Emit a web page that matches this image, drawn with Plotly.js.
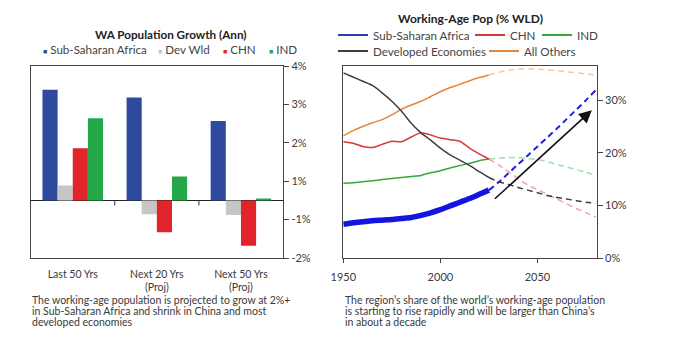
<!DOCTYPE html>
<html>
<head>
<meta charset="utf-8">
<script src="https://cdn.plot.ly/plotly-3.0.1.min.js"></script>
<style>html,body{margin:0;padding:0;background:#fff;}#chart{width:673px;height:358px;}</style>
</head>
<body>
<div id="chart"></div>
<script>
// ---- Left chart: working-age population growth (annual) ----
const barCats = ['Last 50 Yrs', 'Next 20 Yrs<br>(Proj)', 'Next 50 Yrs<br>(Proj)'];
const ssaGrowth = [2.88, 2.68, 2.07];
const devGrowth = [0.39, -0.36, -0.38];
const chnGrowth = [1.36, -0.83, -1.18];
const indGrowth = [2.14, 0.62, 0.05];
const growthTickVals = [-1.5, -0.5, 0.5, 1.5, 2.5, 3.5];
const growthTickText = ['-2%', '-1%', '1%', '2%', '3%', '4%'];

// ---- Right chart: working-age population share of world (%) ----
const histYears = [1950,1955,1960,1965,1970,1975,1980,1985,1990,1995,2000,2005,2010,2015,2020,2025];
const projYears = [2025,2030,2035,2040,2045,2050,2055,2060,2065,2070,2075,2080];
const ssaHist = [6.4,6.7,6.9,7.1,7.2,7.3,7.5,7.7,8.1,8.6,9.2,9.9,10.6,11.3,12.1,12.9];
const ssaProj = [12.9,14.4,16.1,17.8,19.5,21.2,22.9,24.6,26.4,28.2,30.0,31.9];
const chnHist = [22.1,21.8,21.2,21.0,21.6,22.2,22.1,23.0,23.8,23.4,22.8,22.5,22.2,20.9,19.8,18.8];
const chnProj = [18.8,17.7,16.4,15.1,13.9,13.0,12.1,11.2,10.3,9.4,8.6,7.8];
const indHist = [14.2,14.3,14.5,14.7,14.9,15.1,15.3,15.5,15.7,16.2,16.6,17.1,17.6,18.0,18.5,18.8];
const indProj = [18.8,19.0,19.1,19.1,18.9,18.7,18.3,17.8,17.3,16.8,16.3,15.7];
const devHist = [35.2,34.4,33.6,32.8,31.4,29.8,27.9,25.6,23.8,22.4,20.9,19.6,18.6,17.6,16.4,15.3];
const devProj = [15.3,14.5,14.0,13.4,12.9,12.4,11.9,11.5,11.2,10.9,10.6,10.4];
const othHist = [23.2,24.2,25.0,25.7,26.3,27.2,28.3,29.1,29.8,30.7,31.6,32.4,33.0,33.7,34.3,34.8];
const othProj = [34.8,35.3,35.7,35.9,36.0,35.9,35.8,35.6,35.4,35.2,35.0,34.8];
const shareTickVals = [0, 10, 20, 30];
const shareTickText = ['0%', '10%', '20%', '30%'];
const yearTickVals = [1950, 2000, 2050];
const arrowFrom = [2027.3, 11.0];
const arrowTo = [2078, 28.1];

const FONT = 'Lato, "Open Sans", sans-serif';
const TXT = '#3a3a3a';

const C = {
  ssaBar: '#2e4a9e', devBar: '#c6c6c6', chnBar: '#e1232b', indBar: '#23a94a',
  ssa: '#1414e0', ssaLeg: '#2a40b0', chn: '#d43a3a', ind: '#3aa63a', dev: '#404040', oth: '#e8853a',
  chnD: '#f2a5a5', indD: '#a6dca6', othD: '#f6c9a2', devD: '#404040', ssaD: '#2020e0'
};

const traces = [];
function bar(vals, color, name) {
  return {type: 'bar', x: barCats, y: vals, name: name, marker: {color: color},
          xaxis: 'x', yaxis: 'y', showlegend: false, hoverinfo: 'skip'};
}
traces.push(bar(ssaGrowth, C.ssaBar, 'Sub-Saharan Africa'));
traces.push(bar(devGrowth, C.devBar, 'Dev Wld'));
traces.push(bar(chnGrowth, C.chnBar, 'CHN'));
traces.push(bar(indGrowth, C.indBar, 'IND'));

function line(x, y, color, width, dash, name) {
  return {type: 'scatter', mode: 'lines', x: x, y: y, name: name,
          line: {color: color, width: width, dash: dash || 'solid', shape: 'spline', smoothing: 0.6},
          xaxis: 'x2', yaxis: 'y2', showlegend: false, hoverinfo: 'skip'};
}
// projections (dashed)
traces.push(line(projYears, othProj, C.othD, 1.5, '6px,4px', 'All Others (proj)'));
traces.push(line(projYears, indProj, C.indD, 1.5, '6px,4px', 'IND (proj)'));
traces.push(line(projYears, chnProj, C.chnD, 1.5, '6px,4px', 'CHN (proj)'));
traces.push(line(projYears, devProj, C.devD, 1.5, '6px,4px', 'Developed Economies (proj)'));
traces.push(line(projYears, ssaProj, C.ssaD, 2, '6px,4px', 'Sub-Saharan Africa (proj)'));
// history (solid)
traces.push(line(histYears, othHist, C.oth, 1.5, 'solid', 'All Others'));
traces.push(line(histYears, indHist, C.ind, 1.5, 'solid', 'IND'));
traces.push(line(histYears, chnHist, C.chn, 1.5, 'solid', 'CHN'));
traces.push(line(histYears, devHist, C.dev, 1.5, 'solid', 'Developed Economies'));
traces.push(line(histYears, ssaHist, C.ssa, 5.5, 'solid', 'Sub-Saharan Africa'));
// legend entries (one legend per entry so each can sit where the original puts it)
function legEntry(color, name, legend) {
  return {type: 'scatter', mode: 'lines', x: [null], y: [null], name: name,
          line: {color: color, width: 1.8}, xaxis: 'x2', yaxis: 'y2', showlegend: true,
          legend: legend, hoverinfo: 'skip'};
}
traces.push(legEntry(C.ssaLeg, 'Sub-Saharan Africa', 'legend2'));
traces.push(legEntry(C.chn, 'CHN', 'legend3'));
traces.push(legEntry(C.ind, 'IND', 'legend4'));
traces.push(legEntry(C.dev, 'Developed Economies', 'legend5'));
traces.push(legEntry(C.oth, 'All Others', 'legend6'));

const W = 673, H = 358;
const px = v => v / W, py = v => 1 - v / H;

const annotations = [];
function txt(x, y, text, opts) {
  annotations.push(Object.assign({xref: 'paper', yref: 'paper', x: px(x), y: py(y), text: text,
    showarrow: false, xanchor: 'left', yanchor: 'middle', borderpad: 0,
    font: {family: FONT, size: 10.5, color: TXT}}, opts || {}));
}
// titles
txt(170, 34.3, '<b>WA Population Growth (Ann)</b>', {xanchor: 'center', font: {family: FONT, size: 11.7, color: '#222'}});
txt(470, 18.3, '<b>Working-Age Pop (% WLD)</b>', {xanchor: 'center', font: {family: FONT, size: 12, color: '#222'}});
// left legend (square swatches)
const sq = c => '<span style="color:' + c + ';font-size:7px">■</span> ';
const legFont = {family: FONT, size: 11.6, color: '#444'};
txt(41.5, 49, sq(C.ssaBar) + 'Sub-Saharan Africa', {font: legFont});
txt(157, 49, sq(C.devBar) + 'Dev Wld', {font: legFont});
txt(222, 49, sq(C.chnBar) + 'CHN', {font: legFont});
txt(268, 49, sq(C.indBar) + 'IND', {font: legFont});
// captions
const capL = ['The working-age population is projected to grow at 2%+',
              'in Sub-Saharan Africa and shrink in China and most',
              'developed economies'];
const capR = ['The region\u2019s share of the world\u2019s working-age population',
              'is starting to rise rapidly and will be larger than China\u2019s',
              'in about a decade'];
capL.forEach((t, i) => txt(30.5, 300 + i * 11.2, t));
capR.forEach((t, i) => txt(343.5, 300 + i * 11.2, t));
// arrow
annotations.push({xref: 'x2', yref: 'y2', axref: 'x2', ayref: 'y2',
  x: arrowTo[0], y: arrowTo[1], ax: arrowFrom[0], ay: arrowFrom[1], text: '',
  showarrow: true, arrowhead: 2, arrowsize: 1.6, arrowwidth: 1.6, arrowcolor: '#111', standoff: 0});

const shapes = [0.5, 1.5].map(xv => ({type: 'line', xref: 'x', yref: 'y', x0: xv, x1: xv,
  ysizemode: 'pixel', yanchor: 0, y0: 0, y1: -5, line: {color: '#333', width: 1}}));

const axCommon = {showgrid: false, showline: true, mirror: true, linecolor: '#444', linewidth: 1.2,
  tickfont: {family: FONT, size: 11, color: TXT}, fixedrange: true};

function legAt(x, y) {
  return {orientation: 'h', x: px(x), y: py(y), xanchor: 'left', yanchor: 'middle',
    bgcolor: 'rgba(0,0,0,0)', font: {family: FONT, size: 11.6, color: '#444'}, itemwidth: 30};
}

const layout = {
  width: W, height: H, margin: {l: 0, r: 0, t: 0, b: 0},
  paper_bgcolor: '#fff', plot_bgcolor: '#fff',
  font: {family: FONT, color: TXT},
  barmode: 'group', bargap: 0.28, bargroupgap: 0,
  xaxis: Object.assign({}, axCommon, {domain: [px(30.7), px(283)], anchor: 'y', ticks: '',
    type: 'category', range: [-0.5, 2.5], zeroline: false, ticklabelstandoff: 6,
    tickfont: {family: FONT, size: 10.5, color: TXT}}),
  yaxis: Object.assign({}, axCommon, {domain: [py(258), py(66)], anchor: 'x', side: 'right',
    range: [-1.5, 3.5], tickvals: growthTickVals, ticktext: growthTickText,
    ticks: 'outside', ticklen: 5, tickcolor: '#444', zeroline: true, zerolinecolor: '#222', zerolinewidth: 1.2}),
  xaxis2: Object.assign({}, axCommon, {domain: [px(343.3), px(596.7)], anchor: 'y2',
    range: [1950, 2080.5], tickvals: yearTickVals, ticks: 'outside', ticklen: 4, tickcolor: '#444',
    zeroline: false, ticklabelstandoff: 5}),
  yaxis2: Object.assign({}, axCommon, {domain: [py(258), py(66)], anchor: 'x2', side: 'right',
    range: [0, 36.5], tickvals: shareTickVals, ticktext: shareTickText, ticks: 'outside', ticklen: 5,
    tickcolor: '#444', zeroline: false}),
  showlegend: true,
  legend: {visible: false},
  legend2: legAt(333, 35),
  legend3: legAt(470, 35),
  legend4: legAt(537, 35),
  legend5: legAt(333, 51),
  legend6: legAt(484, 51),
  annotations: annotations,
  shapes: shapes
};

Plotly.newPlot('chart', traces, layout, {staticPlot: true, displayModeBar: false});
</script>
</body>
</html>
